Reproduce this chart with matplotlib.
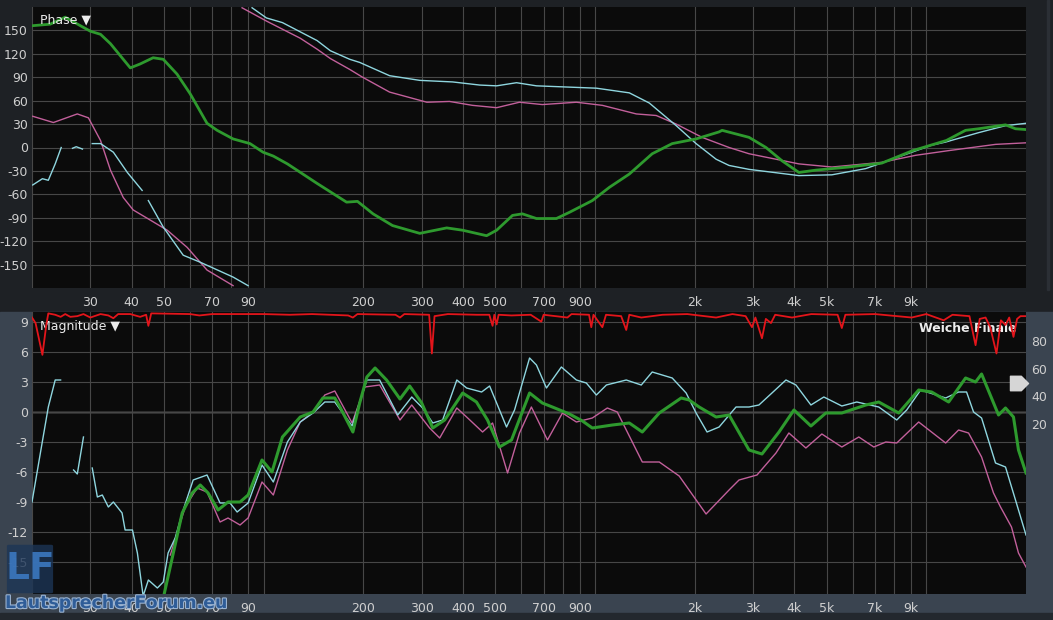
#!/usr/bin/env python3

# plot.py
# Smaart style transfer function view: phase on top, magnitude + coherence below

import numpy as np
import matplotlib
matplotlib.use("Agg")
import matplotlib.pyplot as plt
from matplotlib.patches import Rectangle, FancyBboxPatch
from matplotlib.path import Path
import matplotlib.patheffects as pe


# frequency grid and labels

grid_freqs = [20, 30, 40, 50, 60, 70, 80, 90, 100,
              200, 300, 400, 500, 600, 700, 800, 900, 1000,
              2000, 3000, 4000, 5000, 6000, 7000, 8000, 9000, 10000]
labelled = {30: "30", 40: "40", 50: "50", 70: "70", 90: "90",
            200: "200", 300: "300", 400: "400", 500: "500", 700: "700", 900: "900",
            2000: "2k", 3000: "3k", 4000: "4k", 5000: "5k", 7000: "7k", 9000: "9k"}
phase_ticks = [-150, -120, -90, -60, -30, 0, 30, 60, 90, 120, 150]
mag_ticks = [-15, -12, -9, -6, -3, 0, 3, 6, 9]
coh_ticks = [20, 40, 60, 80]

nan = np.nan

# phase traces (freq Hz, degrees, as displayed -180..180)

phase_green = [(20, 156), (22.7, 158), (25.2, 167), (28, 156), (30, 149), (32.2, 145),
               (34.5, 133), (39.6, 102), (42.4, 107), (46.4, 115), (49.8, 113), (54.8, 94),
               (60, 69), (67.5, 31), (72.4, 22), (80.9, 11), (91, 5), (99.6, -6), (107, -11),
               (118, -21), (145, -46), (178, -70), (192, -69), (214, -85), (245, -100),
               (296, -110), (357, -103), (399, -106), (471, -113), (505, -106), (564, -87),
               (604, -85), (666, -91), (765, -91), (838, -83), (982, -68), (1106, -51),
               (1270, -34), (1489, -8), (1711, 5), (2020, 11), (2370, 20), (2420, 22),
               (2918, 13), (3283, 0), (3669, -17), (4127, -32), (4645, -29), (5838, -25),
               (7342, -20), (9100, -4), (11500, 9), (13143, 22), (14382, 24), (17344, 29),
               (18591, 24), (20000, 23)]

phase_cyan = [(20.1, -48), (21.5, -40), (22.4, -42), (23.5, -21), (24.5, 0), (nan, nan),
              (26.5, -1), (27.2, 1), (28.4, -2), (nan, nan),
              (30.4, 5), (32.2, 5), (35.2, -6), (38.8, -32), (43, -55), (nan, nan),
              (44.9, -68), (49.8, -102), (57.2, -138), (64.4, -147), (80.9, -166),
              (89.8, -177), (92.3, 179), (102, 166), (114, 160), (145, 137), (159, 124),
              (182, 113), (195, 109), (240, 92), (296, 86), (372, 84), (449, 80), (505, 79),
              (580, 83), (666, 79), (1010, 76), (1270, 70), (1459, 57), (1759, 28),
              (2020, 5), (2321, -15), (2540, -23), (2918, -28), (4127, -36), (5190, -35),
              (6570, -27), (8259, -12), (10383, 3), (11443, 7), (14382, 19), (17344, 28),
              (20000, 31)]

phase_pink = [(20.1, 40), (23.2, 32), (27.4, 43), (29.6, 38), (32.2, 9), (34.5, -29),
              (37.7, -64), (40.4, -80), (45.5, -93), (51.2, -106), (58.8, -128),
              (67.5, -157), (80.9, -177), (86.1, 179), (102, 162), (129, 140), (145, 126),
              (159, 114), (182, 100), (199, 90), (240, 71), (311, 58), (364, 59), (427, 54),
              (505, 51), (592, 58), (694, 55), (879, 58), (1053, 54), (1333, 43),
              (1531, 41), (1759, 30), (2106, 13), (2540, 0), (2918, -8), (4127, -21),
              (5190, -25), (7342, -19), (9291, -10), (11683, -4), (16182, 4), (20000, 6)]

# magnitude traces (freq Hz, dB)

mag_green = [(49.5, -19), (53.4, -14.1), (56.8, -10.1), (60.9, -8.1), (64.4, -7.3),
             (68, -8.1), (72.9, -9.8), (78.1, -9), (84.9, -9), (89.8, -8.3), (98.9, -4.8),
             (106, -6), (114, -2.5), (129, -0.5), (141, 0), (151, 1.4), (164, 1.4),
             (170, 0.5), (186, -2.0), (195, 0.9), (205, 3.5), (217, 4.4), (235, 3.2),
             (258, 1.3), (276, 2.6), (300, 0.9), (324, -1.6), (352, -0.8), (399, 1.9),
             (439, 1), (474, -0.8), (515, -3.5), (560, -2.8), (635, 1.9), (694, 0.9),
             (744, 0.5), (838, -0.2), (917, -0.9), (982, -1.6), (1129, -1.3), (1270, -1.1),
             (1390, -2.0), (1564, -0.1), (1821, 1.4), (1925, 1.2), (2063, 0.5),
             (2321, -0.5), (2540, -0.3), (2918, -3.8), (3193, -4.2), (3594, -2),
             (3987, 0.2), (4486, -1.4), (4977, -0.1), (5561, -0.1), (6570, 0.7),
             (7189, 1), (8259, -0.1), (9487, 2.2), (10383, 2), (11683, 1), (13143, 3.4),
             (14087, 3), (14688, 3.8), (16524, -0.3), (17344, 0.4), (18333, -0.5),
             (18982, -3.8), (20000, -6.1)]

mag_cyan = [(20, -9), (21.2, -4.1), (22.4, 0.5), (23.5, 3.2), (24.4, 3.2), (nan, nan),
            (26.7, -5.8), (27.4, -6.2), (28.6, -2.5), (nan, nan),
            (30.4, -5.6), (31.5, -8.5), (32.6, -8.3), (34, -9.5), (35.2, -9), (37.4, -10.1),
            (38.2, -11.8), (40.2, -11.8), (41.6, -14.1), (43.3, -18.4), (44.9, -16.8),
            (47.8, -17.6), (49.8, -17), (51.5, -14.1), (54.1, -12.6), (56.8, -10.1),
            (61.3, -6.8), (67.5, -6.3), (73.9, -9.1), (79.2, -9.1), (83.2, -10),
            (89.8, -9.1), (98.9, -5.3), (107, -7), (118, -3), (129, -1), (141, -0.1),
            (153, 1), (164, 1), (185, -1.4), (205, 3.2), (224, 3.2), (254, -0.3),
            (280, 1.5), (302, 0.4), (324, -1.1), (347, -0.8), (383, 3.2), (410, 2.4),
            (455, 2), (481, 2.6), (541, -1.5), (572, 0.2), (635, 5.4), (666, 4.7),
            (714, 2.4), (792, 4.5), (879, 3.2), (942, 2.9), (1010, 1.7), (1083, 2.7),
            (1243, 3.2), (1380, 2.7), (1489, 4), (1711, 3.4), (1885, 1.9), (2020, -0.1),
            (2180, -2), (2370, -1.5), (2666, 0.5), (2918, 0.5), (3126, 0.7), (3422, 1.9),
            (3772, 3.2), (4043, 2.7), (4486, 0.7), (4908, 1.5), (5561, 0.6), (6171, 1),
            (7189, 0.5), (8145, -0.8), (8730, 0.2), (9617, 2.2), (11443, 1.4),
            (12519, 2), (13233, 2), (13892, 0), (14688, -0.6), (16182, -5.1),
            (17344, -5.5), (18591, -8.8), (20000, -12.3)]

mag_pink = [(52.3, -14.3), (54.8, -12.1), (58, -9.5), (63, -7.6), (67.5, -8), (73.9, -11),
            (78.1, -10.6), (84.9, -11.3), (89.8, -10.6), (98.9, -7), (107, -8.3),
            (118, -3.8), (129, -1), (141, 0), (153, 1.7), (164, 2.1), (185, -1.1),
            (202, 2.5), (224, 2.7), (258, -0.8), (280, 0.7), (317, -1.6), (340, -2.6),
            (383, 0.4), (410, -0.5), (458, -2), (491, -1.1), (545, -6.1), (592, -2.1),
            (643, 0.5), (719, -2.8), (798, -0.1), (879, -1), (982, -0.6), (1090, 0.4),
            (1168, 0), (1390, -5), (1564, -5), (1796, -6.4), (2165, -10.2), (2540, -7.8),
            (2722, -6.8), (3084, -6.3), (3519, -4.1), (3849, -2.1), (4332, -3.6),
            (4841, -2.2), (5561, -3.5), (6258, -2.5), (6945, -3.5), (7549, -3),
            (8145, -3.1), (9487, -1), (11443, -3.1), (12519, -1.8), (13418, -2.1),
            (14688, -4.5), (15957, -8.1), (16755, -9.5), (18082, -11.5), (18982, -14.1),
            (20000, -15.5)]

# coherence (freq Hz, percent, right axis)

coherence = [(20, 97), (20.5, 93), (21.5, 70), (22.1, 92), (22.4, 100), (23.5, 99),
             (24.4, 97.5), (25.2, 99.5), (26.1, 97.5), (27.4, 98), (28.6, 99.5), (30, 97),
             (32.2, 99.5), (34, 98.5), (35.2, 96.5), (36.4, 99.5), (39.6, 99.5),
             (42.4, 97.5), (44.2, 99), (44.9, 91), (45.8, 100), (60, 99.5), (64, 98.5),
             (70, 99.5), (100, 99.5), (120, 99), (140, 99.5), (180, 98.5), (186, 97),
             (192, 99.5), (250, 99), (258, 97), (266, 99.5), (316, 99), (322, 71),
             (328, 98), (360, 99.5), (440, 99), (480, 99), (491, 91), (497, 99), (505, 92),
             (512, 99), (560, 98.5), (640, 99), (689, 94), (700, 99), (826, 97),
             (850, 99.5), (960, 99), (975, 90), (990, 99), (1053, 90), (1080, 99),
             (1200, 98), (1243, 88), (1270, 99), (1380, 97), (1600, 99), (1900, 99.5),
             (2321, 97), (2600, 99.5), (2850, 98), (2979, 90), (3050, 97), (3193, 82),
             (3280, 96), (3399, 93), (3500, 99), (3933, 97), (4500, 99.5), (5400, 99),
             (5561, 89.4), (5700, 99), (7000, 99.5), (9037, 97), (10000, 99.5),
             (11286, 95), (12000, 99), (13500, 98), (14087, 77), (14500, 96), (15099, 97),
             (15600, 90), (16290, 71), (16800, 95), (17344, 91.6), (17800, 97),
             (18333, 83), (18800, 96), (19245, 98), (20000, 98)]


# colours

BG = "#0b0b0b"
GRID = "#474747"
TXT = "#cfcfcf"
GREEN = "#2e9a2e"
CYAN = "#8fd6df"
PINK = "#c2609b"
RED = "#e3151b"


def unzip(pairs):
    f = np.array([p[0] for p in pairs], float)
    v = np.array([p[1] for p in pairs], float)
    return f, v


def wrapped(pairs):
    # break the line where the phase wraps around +-180
    f, v = unzip(pairs)
    jump = np.where(np.abs(np.diff(v)) > 180)[0]
    return np.insert(f, jump + 1, nan), np.insert(v, jump + 1, nan)


def style_axes(ax, yticks):
    ax.set_facecolor(BG)
    ax.set_xscale("log")
    ax.set_xlim(20, 20000)
    ax.set_xticks(grid_freqs)
    ax.set_xticks([], minor=True)
    ax.set_xticklabels([labelled.get(f, "") for f in grid_freqs])
    ax.set_yticks(yticks)
    ax.set_yticklabels([str(t) for t in yticks])
    ax.grid(True, color=GRID, linewidth=0.8)
    ax.tick_params(axis="both", length=0, colors=TXT, labelsize=9)
    ax.tick_params(axis="x", pad=5.5)
    ax.tick_params(axis="y", pad=3)
    for s in ax.spines.values():
        s.set_visible(False)


fig = plt.figure(figsize=(10.53, 6.2), dpi=100, facecolor="#1e2125")
W, H = 1053.0, 620.0

# lower half of the window is a bluish grey
fig.patches.append(Rectangle((0, 0), 1, 1 - 312 / H, transform=fig.transFigure,
                             color="#3a4450", zorder=-5))
fig.patches.append(Rectangle((0, 0), 1, 7 / H, transform=fig.transFigure,
                             color="#23282e", zorder=-4))
fig.patches.append(Rectangle((1047 / W, 1 - 290 / H), 2 / W, 290 / H,
                             transform=fig.transFigure, color="#2b2f35", zorder=-4))

ax1 = fig.add_axes([32 / W, 1 - 288 / H, 994 / W, 281 / H])
ax2 = fig.add_axes([32 / W, 1 - 594 / H, 994 / W, 282 / H])


# Phase panel

style_axes(ax1, phase_ticks)
ax1.set_ylim(-180, 180)
ax1.plot(*wrapped(phase_pink), color=PINK, lw=1.0)
ax1.plot(*wrapped(phase_cyan), color=CYAN, lw=1.0)
ax1.plot(*wrapped(phase_green), color=GREEN, lw=2.0)
ax1.text(0.008, 0.953, "Phase \u25bc", transform=ax1.transAxes, color="#ececec",
         fontsize=9, ha="left", va="center")


# Magnitude panel

style_axes(ax2, mag_ticks)
ax2.set_ylim(-18.2, 10)
ax2.axhline(0, color="#b4b4b4", lw=1.0, zorder=1.5)
ax2.plot(*unzip(mag_pink), color=PINK, lw=1.0)
ax2.plot(*unzip(mag_cyan), color=CYAN, lw=1.0)
ax2.plot(*unzip(mag_green), color=GREEN, lw=2.2)
ax2.text(0.008, 0.947, "Magnitude \u25bc", transform=ax2.transAxes, color="#ececec",
         fontsize=9, ha="left", va="center")
ax2.text(0.991, 0.94, "Weiche Finale", transform=ax2.transAxes, color="#ececec",
         fontsize=9, fontweight="bold", ha="right", va="center", zorder=6)

# coherence on its own right hand scale
ax3 = ax2.twinx()
ax3.set_ylim(-103, 101)
ax3.set_yticks(coh_ticks)
ax3.set_yticklabels([str(t) for t in coh_ticks])
ax3.tick_params(axis="y", length=0, colors=TXT, labelsize=9, pad=4)
for s in ax3.spines.values():
    s.set_visible(False)
ax3.plot(*unzip(coherence), color=RED, lw=1.3)

# little level handle at the right edge
handle = Path([(-1, -0.8), (0.2, -0.8), (1, 0), (0.2, 0.8), (-1, 0.8), (-1, -0.8)],
              [Path.MOVETO] + [Path.LINETO] * 4 + [Path.CLOSEPOLY])
ax2.plot([0.9925], [0.748], transform=ax2.transAxes, marker=handle, ms=13,
         color="#d6d6d6", linestyle="none", clip_on=False, zorder=7)


# forum watermark (sits on top of the lower tick labels, as in the screenshot)

fig.patches.append(FancyBboxPatch((9 / W, 1 - 592 / H), 42 / W, 46 / H,
                                  boxstyle="round,pad=0.002", transform=fig.transFigure,
                                  facecolor="#1c3556", edgecolor="none", alpha=0.8, zorder=5))
fig.text(30 / W, 1 - 569 / H, "LF", color="#3b78c0", fontsize=27, fontweight="bold",
         ha="center", va="center", alpha=0.9, zorder=6)
fig.text(5 / W, 1 - 603 / H, "LautsprecherForum.eu", color="#2f5d98", fontsize=12.5,
         fontweight="bold", ha="left", va="center", zorder=6,
         path_effects=[pe.Stroke(linewidth=1.6, foreground="#9bb3d0"), pe.Normal()])


plt.savefig("out.png", dpi=100, facecolor=fig.get_facecolor())
